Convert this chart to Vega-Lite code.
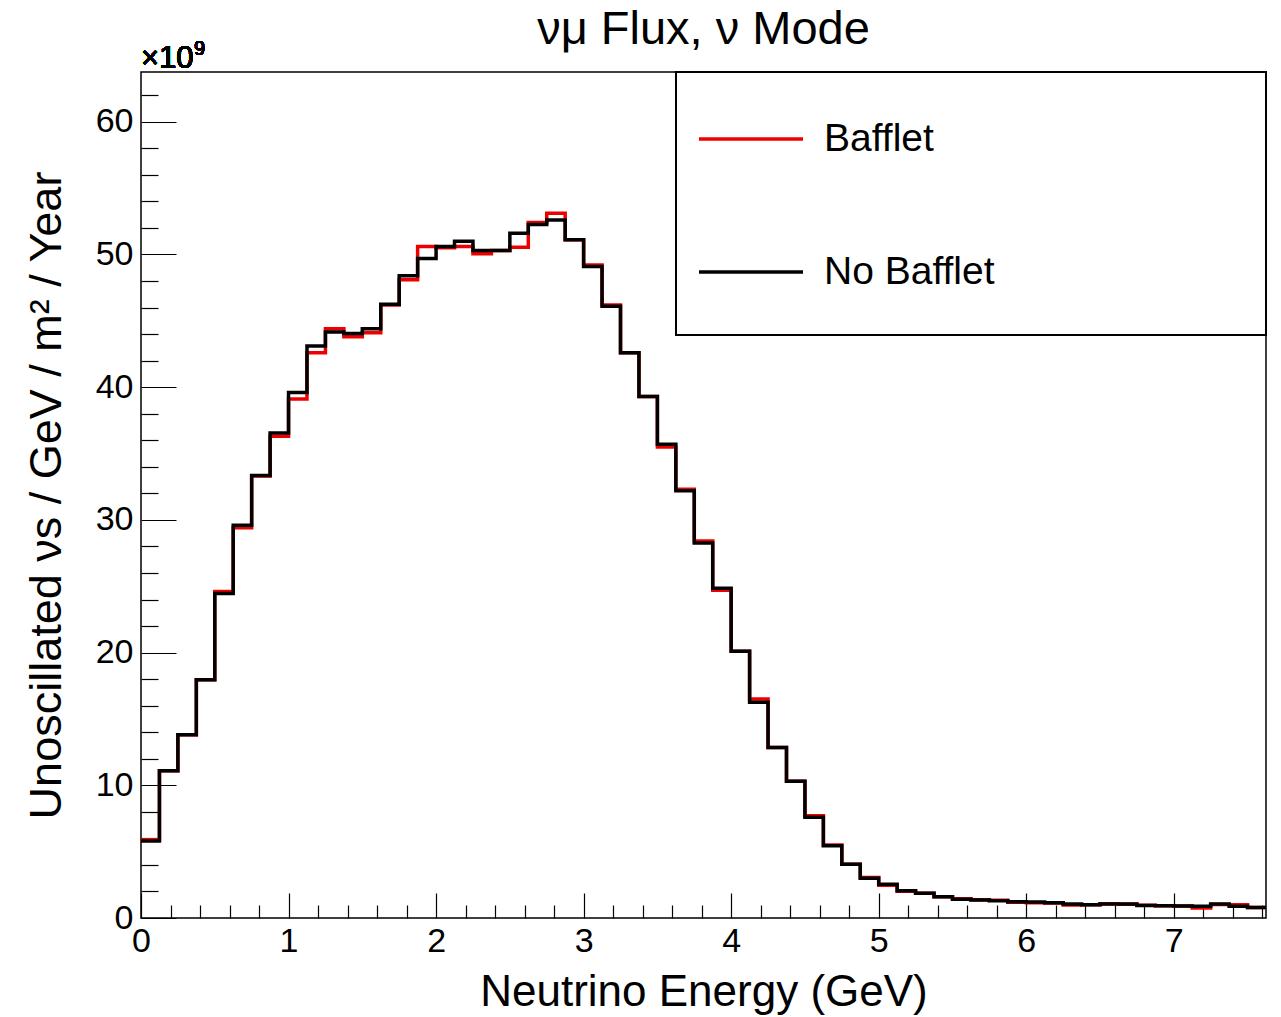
{
  "$schema": "https://vega.github.io/schema/vega-lite/v6.json",
  "width": 1125,
  "height": 846,
  "autosize": {"type": "none"},
  "padding": {"left": 141, "top": 72, "right": 15, "bottom": 99},
  "background": "white",
  "config": {
    "font": "Liberation Sans",
    "view": {"stroke": "black", "strokeWidth": 1.5},
    "axis": {"grid": false, "domain": false, "tickColor": "black", "labelColor": "black", "titleColor": "black", "labelFont": "Liberation Sans", "titleFont": "Liberation Sans", "titleFontWeight": "normal", "tickWidth": 1.2}
  },
  "title": {"text": "νμ Flux, ν Mode", "fontSize": 47, "fontWeight": "normal", "font": "Liberation Sans", "anchor": "middle", "offset": -15, "color": "black"},
  "data": {"values": [
    {"E": 0.000, "Bafflet": 5.9, "No Bafflet": 5.8},
    {"E": 0.125, "Bafflet": 11.1, "No Bafflet": 11.1},
    {"E": 0.250, "Bafflet": 13.8, "No Bafflet": 13.8},
    {"E": 0.375, "Bafflet": 17.95, "No Bafflet": 17.95},
    {"E": 0.500, "Bafflet": 24.6, "No Bafflet": 24.45},
    {"E": 0.625, "Bafflet": 29.4, "No Bafflet": 29.6},
    {"E": 0.750, "Bafflet": 33.3, "No Bafflet": 33.35},
    {"E": 0.875, "Bafflet": 36.3, "No Bafflet": 36.55},
    {"E": 1.000, "Bafflet": 39.1, "No Bafflet": 39.6},
    {"E": 1.125, "Bafflet": 42.6, "No Bafflet": 43.1},
    {"E": 1.250, "Bafflet": 44.4, "No Bafflet": 44.15},
    {"E": 1.375, "Bafflet": 43.8, "No Bafflet": 44.05},
    {"E": 1.500, "Bafflet": 44.1, "No Bafflet": 44.4},
    {"E": 1.625, "Bafflet": 46.2, "No Bafflet": 46.25},
    {"E": 1.750, "Bafflet": 48.1, "No Bafflet": 48.4},
    {"E": 1.875, "Bafflet": 50.6, "No Bafflet": 49.7},
    {"E": 2.000, "Bafflet": 50.5, "No Bafflet": 50.6},
    {"E": 2.125, "Bafflet": 50.6, "No Bafflet": 51.0},
    {"E": 2.250, "Bafflet": 50.05, "No Bafflet": 50.3},
    {"E": 2.375, "Bafflet": 50.3, "No Bafflet": 50.3},
    {"E": 2.500, "Bafflet": 50.55, "No Bafflet": 51.6},
    {"E": 2.625, "Bafflet": 52.4, "No Bafflet": 52.25},
    {"E": 2.750, "Bafflet": 53.1, "No Bafflet": 52.6},
    {"E": 2.875, "Bafflet": 51.1, "No Bafflet": 51.1},
    {"E": 3.000, "Bafflet": 49.2, "No Bafflet": 49.1},
    {"E": 3.125, "Bafflet": 46.2, "No Bafflet": 46.1},
    {"E": 3.250, "Bafflet": 42.6, "No Bafflet": 42.6},
    {"E": 3.375, "Bafflet": 39.3, "No Bafflet": 39.3},
    {"E": 3.500, "Bafflet": 35.5, "No Bafflet": 35.7},
    {"E": 3.625, "Bafflet": 32.3, "No Bafflet": 32.2},
    {"E": 3.750, "Bafflet": 28.4, "No Bafflet": 28.25},
    {"E": 3.875, "Bafflet": 24.7, "No Bafflet": 24.85},
    {"E": 4.000, "Bafflet": 20.1, "No Bafflet": 20.1},
    {"E": 4.125, "Bafflet": 16.5, "No Bafflet": 16.25},
    {"E": 4.250, "Bafflet": 12.85, "No Bafflet": 12.85},
    {"E": 4.375, "Bafflet": 10.3, "No Bafflet": 10.3},
    {"E": 4.500, "Bafflet": 7.7, "No Bafflet": 7.6},
    {"E": 4.625, "Bafflet": 5.5, "No Bafflet": 5.45},
    {"E": 4.750, "Bafflet": 4.05, "No Bafflet": 4.05},
    {"E": 4.875, "Bafflet": 3.05, "No Bafflet": 3.0},
    {"E": 5.000, "Bafflet": 2.47, "No Bafflet": 2.55},
    {"E": 5.125, "Bafflet": 2.02, "No Bafflet": 2.06},
    {"E": 5.250, "Bafflet": 1.86, "No Bafflet": 1.86},
    {"E": 5.375, "Bafflet": 1.6, "No Bafflet": 1.6},
    {"E": 5.500, "Bafflet": 1.45, "No Bafflet": 1.42},
    {"E": 5.625, "Bafflet": 1.38, "No Bafflet": 1.36},
    {"E": 5.750, "Bafflet": 1.33, "No Bafflet": 1.3},
    {"E": 5.875, "Bafflet": 1.18, "No Bafflet": 1.22},
    {"E": 6.000, "Bafflet": 1.15, "No Bafflet": 1.2},
    {"E": 6.125, "Bafflet": 1.13, "No Bafflet": 1.15},
    {"E": 6.250, "Bafflet": 0.98, "No Bafflet": 1.05},
    {"E": 6.375, "Bafflet": 1.0, "No Bafflet": 1.0},
    {"E": 6.500, "Bafflet": 1.08, "No Bafflet": 1.06},
    {"E": 6.625, "Bafflet": 1.04, "No Bafflet": 1.06},
    {"E": 6.750, "Bafflet": 0.96, "No Bafflet": 0.95},
    {"E": 6.875, "Bafflet": 0.92, "No Bafflet": 0.92},
    {"E": 7.000, "Bafflet": 0.9, "No Bafflet": 0.9},
    {"E": 7.125, "Bafflet": 0.76, "No Bafflet": 0.88},
    {"E": 7.250, "Bafflet": 1.02, "No Bafflet": 1.05},
    {"E": 7.375, "Bafflet": 1.0, "No Bafflet": 0.88},
    {"E": 7.500, "Bafflet": 0.8, "No Bafflet": 0.8},
    {"E": 7.625, "Bafflet": 0.8, "No Bafflet": 0.8}
  ]},
  "resolve": {"axis": {"x": "independent", "y": "independent"}},
  "layer": [
    {
      "transform": [{"fold": ["Bafflet", "No Bafflet"], "as": ["series", "flux"]}],
      "mark": {"type": "line", "interpolate": "step-after", "strokeWidth": 3.5, "clip": true},
      "encoding": {
        "x": {"field": "E", "type": "quantitative", "scale": {"domain": [0, 7.625], "nice": false, "zero": false},
          "axis": {"orient": "bottom", "values": [0, 1, 2, 3, 4, 5, 6, 7], "tickSize": -25, "labelFontSize": 34, "labelPadding": 31, "title": "Neutrino Energy (GeV)", "titleFontSize": 44, "titlePadding": 12, "labelFlush": false, "labelOverlap": false}},
        "y": {"field": "flux", "type": "quantitative", "scale": {"domain": [0, 63.75], "nice": false},
          "axis": {"orient": "left", "values": [0, 10, 20, 30, 40, 50, 60], "tickSize": -35, "labelFontSize": 34, "labelPadding": 43, "title": "Unoscillated νs /  GeV / m² / Year", "titleFontSize": 45, "titlePadding": 26, "labelFlush": false, "labelOverlap": false}},
        "color": {"field": "series", "type": "nominal", "scale": {"domain": ["Bafflet", "No Bafflet"], "range": ["#ee0000", "#000000"]},
          "legend": {"orient": "none", "legendX": 556, "legendY": 13, "title": null, "symbolType": "stroke", "symbolSize": 10816, "symbolStrokeWidth": 3.5, "labelFontSize": 39, "labelFont": "Liberation Sans", "labelColor": "black", "labelOffset": 19, "labelLimit": 400, "rowPadding": 59, "padding": 0}}
      }
    },
    {
      "mark": {"type": "rect", "filled": false, "stroke": "black", "strokeWidth": 1.5},
      "encoding": {
        "x": {"datum": 3.625, "type": "quantitative",
          "axis": {"orient": "bottom", "values": [0.2, 0.4, 0.6, 0.8, 1.2, 1.4, 1.6, 1.8, 2.2, 2.4, 2.6, 2.8, 3.2, 3.4, 3.6, 3.8, 4.2, 4.4, 4.6, 4.8, 5.2, 5.4, 5.6, 5.8, 6.2, 6.4, 6.6, 6.8, 7.2, 7.4, 7.6], "tickSize": -13, "labels": false, "title": null, "domain": false}},
        "x2": {"datum": 7.625},
        "y": {"datum": 43.93, "type": "quantitative",
          "axis": {"orient": "left", "values": [2, 4, 6, 8, 12, 14, 16, 18, 22, 24, 26, 28, 32, 34, 36, 38, 42, 44, 46, 48, 52, 54, 56, 58, 62], "tickSize": -17, "labels": false, "title": null, "domain": false}},
        "y2": {"datum": 63.75}
      }
    },
    {
      "mark": {"type": "text", "text": "×10", "align": "left", "baseline": "alphabetic", "fontSize": 31, "fontWeight": "normal", "font": "Liberation Sans", "dy": -4, "color": "black"},
      "encoding": {
        "x": {"datum": 0, "type": "quantitative", "axis": null},
        "y": {"datum": 63.75, "type": "quantitative", "axis": null}
      }
    },
    {
      "mark": {"type": "text", "text": "9", "align": "left", "baseline": "alphabetic", "fontSize": 20, "fontWeight": "normal", "font": "Liberation Sans", "dx": 53, "dy": -17, "color": "black"},
      "encoding": {
        "x": {"datum": 0, "type": "quantitative", "axis": null},
        "y": {"datum": 63.75, "type": "quantitative", "axis": null}
      }
    }
  ]
}
